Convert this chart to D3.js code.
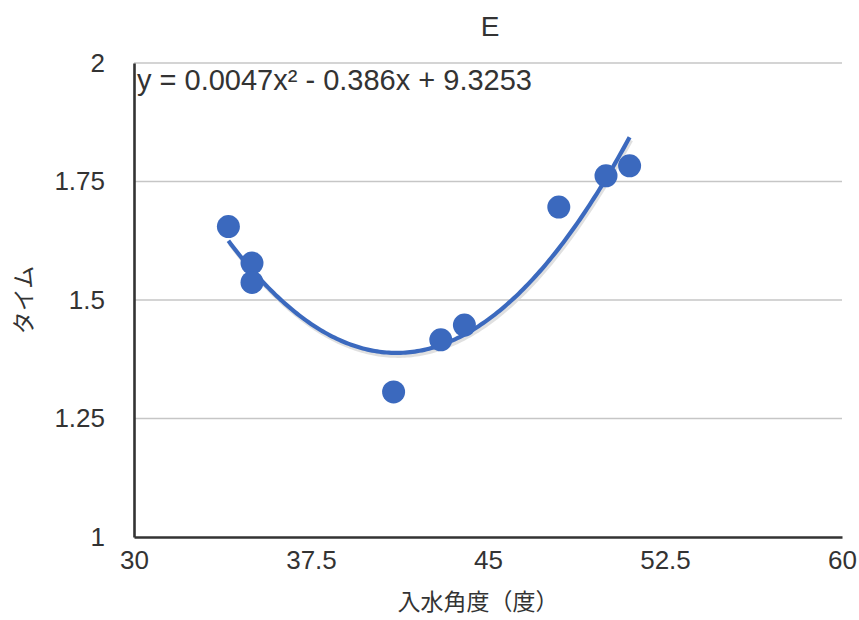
<!DOCTYPE html>
<html>
<head>
<meta charset="utf-8">
<script src="https://cdn.jsdelivr.net/npm/d3@7"></script>
<style>
  html, body { margin: 0; padding: 0; background: #fff; }
  svg { display: block; }
  text { font-family: "Liberation Sans", "Noto Sans CJK JP", sans-serif; fill: #333; }
  .jp { font-family: "Noto Sans CJK JP", sans-serif; }
</style>
</head>
<body>
<svg id="chart" width="859" height="620"></svg>
<script>
// ---- data ----
const angles = [34, 35, 35, 41, 43, 44, 48, 50, 51];
const times  = [1.655, 1.578, 1.537, 1.306, 1.416, 1.447, 1.696, 1.762, 1.783];
const xTicks = [30, 37.5, 45, 52.5, 60];
const yTicks = [1, 1.25, 1.5, 1.75, 2];
const title = "E";
const xLabel = "入水角度（度）";
const yLabel = "タイム";
const equation = "y = 0.0047x² - 0.386x + 9.3253";

// ---- layout ----
const svg = d3.select("#chart");
const x = d3.scaleLinear().domain([30, 60]).range([134, 842]);
const y = d3.scaleLinear().domain([1, 2]).range([537, 63]);
const blue = "#3b69be";

// gridlines
svg.append("g").selectAll("line")
  .data(yTicks.filter(d => d > 1))
  .join("line")
  .attr("x1", x(30)).attr("x2", x(60))
  .attr("y1", d => y(d)).attr("y2", d => y(d))
  .attr("stroke", "#c6c6c6").attr("stroke-width", 1.6);

// axes
const xAxis = d3.axisBottom(x).tickValues(xTicks).tickSize(0).tickPadding(14)
  .tickFormat(d => String(d));
const gx = svg.append("g").attr("transform", `translate(0,${y(1)})`).call(xAxis);
gx.select(".domain").attr("stroke", "#333").attr("stroke-width", 2.6);
gx.selectAll("text").attr("font-size", 26).attr("fill", "#333")
  .style("font-family", "'Liberation Sans', sans-serif");

const yAxis = d3.axisLeft(y).tickValues(yTicks).tickSize(0).tickPadding(29)
  .tickFormat(d => String(d));
const gy = svg.append("g").attr("transform", `translate(${x(30)},0)`).call(yAxis);
gy.select(".domain").attr("stroke", "#333").attr("stroke-width", 2.6);
gy.selectAll("text").attr("font-size", 26).attr("fill", "#333")
  .style("font-family", "'Liberation Sans', sans-serif");

// quadratic least-squares fit from the points
function quadFit(xs, ys) {
  const n = xs.length;
  let s = [0,0,0,0,0], t = [0,0,0];
  for (let i = 0; i < n; i++) {
    const xi = xs[i], yi = ys[i];
    for (let k = 0; k < 5; k++) s[k] += Math.pow(xi, k);
    for (let k = 0; k < 3; k++) t[k] += yi * Math.pow(xi, k);
  }
  const M = [[s[0],s[1],s[2],t[0]],[s[1],s[2],s[3],t[1]],[s[2],s[3],s[4],t[2]]];
  for (let i = 0; i < 3; i++) {
    let p = i;
    for (let r = i+1; r < 3; r++) if (Math.abs(M[r][i]) > Math.abs(M[p][i])) p = r;
    [M[i], M[p]] = [M[p], M[i]];
    for (let r = 0; r < 3; r++) {
      if (r === i) continue;
      const f = M[r][i] / M[i][i];
      for (let c = i; c < 4; c++) M[r][c] -= f * M[i][c];
    }
  }
  const c0 = M[0][3]/M[0][0], c1 = M[1][3]/M[1][1], c2 = M[2][3]/M[2][2];
  return v => c0 + c1*v + c2*v*v;
}
const f = quadFit(angles, times);
const xmin = d3.min(angles), xmax = d3.max(angles);
const curve = d3.range(xmin, xmax + 0.001, 0.1).map(v => [v, f(v)]);
const line = d3.line().x(d => x(d[0])).y(d => y(d[1])).curve(d3.curveLinear);

// soft shadow under the trendline
svg.append("path").datum(curve).attr("d", line)
  .attr("fill", "none").attr("stroke", "#d8d8d8").attr("stroke-width", 4)
  .attr("transform", "translate(1.5,3)").attr("opacity", 0.8);
svg.append("path").datum(curve).attr("d", line)
  .attr("fill", "none").attr("stroke", blue).attr("stroke-width", 4.2)
  .attr("stroke-linecap", "butt");

// points
svg.append("g").selectAll("circle")
  .data(angles.map((a, i) => [a, times[i]]))
  .join("circle")
  .attr("cx", d => x(d[0])).attr("cy", d => y(d[1]))
  .attr("r", 11.5).attr("fill", blue);

// equation
svg.append("text").attr("x", x(30) + 3).attr("y", y(2) + 27)
  .attr("font-size", 29).text(equation);

// title
svg.append("text").attr("x", 490).attr("y", 36).attr("text-anchor", "middle")
  .attr("font-size", 28).text(title);

// axis titles
svg.append("text").attr("class", "jp").attr("x", 478).attr("y", 610)
  .attr("text-anchor", "middle").attr("font-size", 23).text(xLabel);
svg.append("text").attr("class", "jp")
  .attr("transform", "translate(32,300) rotate(-90)")
  .attr("text-anchor", "middle").attr("font-size", 23).text(yLabel);
</script>
</body>
</html>
